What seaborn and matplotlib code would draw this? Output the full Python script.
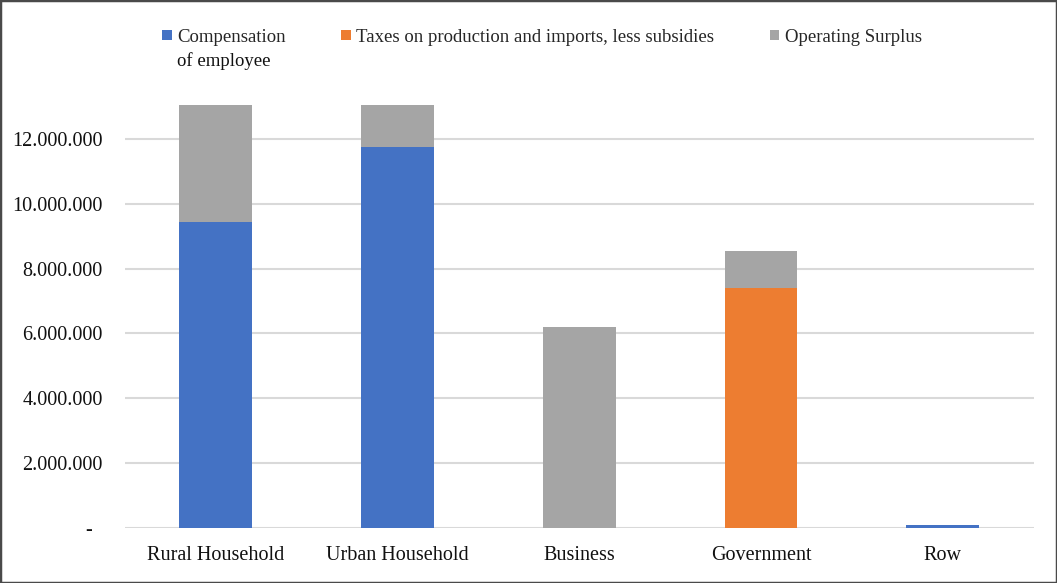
import matplotlib
matplotlib.use("Agg")
import matplotlib.pyplot as plt
from matplotlib.patches import Patch, Rectangle
from matplotlib.ticker import FuncFormatter, FixedLocator
import seaborn as sns
import pandas as pd

# Income received by institution, by factor component
institutions = ["Rural Household", "Urban Household", "Business", "Government", "Row"]
compensation = [9_450_000, 11_750_000, 0, 0, 90_000]
taxes = [0, 0, 0, 7_400_000, 0]
surplus = [3_600_000, 1_300_000, 6_200_000, 1_160_000, 0]
y_ticks = [0, 2_000_000, 4_000_000, 6_000_000, 8_000_000, 10_000_000, 12_000_000]

series_names = ["Compensation",
                "Taxes on production and imports, less subsidies",
                "Operating Surplus"]
first_name_cont = "of employee"
colors = ["#4472C4", "#ED7D31", "#A5A5A5"]

sns.set_theme(style="white")
plt.rcParams["font.family"] = ["Liberation Serif", "DejaVu Serif"]

df = pd.DataFrame({"institution": institutions,
                   "comp": compensation, "tax": taxes, "surplus": surplus})
df["lvl1"] = df["comp"]
df["lvl2"] = df["comp"] + df["tax"]
df["lvl3"] = df["lvl2"] + df["surplus"]

fig = plt.figure(figsize=(10.57, 5.83), dpi=100)
ax = fig.add_axes([0.118, 0.095, 0.860, 0.777])

# stacked bars drawn back to front (cumulative heights)
for level, color in zip(["lvl3", "lvl2", "lvl1"], colors[::-1]):
    sns.barplot(data=df, x="institution", y=level, color=color,
                width=0.4, ax=ax, saturation=1, linewidth=0, zorder=3)

ax.set_xlim(-0.5, len(institutions) - 0.5)
ax.set_ylim(0, 14_000_000)
ax.yaxis.set_major_locator(FixedLocator(y_ticks))


def fmt(v, _):
    if v == 0:
        return "-  "
    return f"{v:,.0f}".replace(",", ".")


ax.yaxis.set_major_formatter(FuncFormatter(fmt))
ax.grid(axis="y", color="#D9D9D9", linewidth=1.5, zorder=0)
ax.grid(axis="x", visible=False)
for s in ax.spines.values():
    s.set_visible(False)
ax.tick_params(axis="both", length=0, labelsize=14.5, colors="#111111")
ax.tick_params(axis="y", pad=16)
ax.tick_params(axis="x", pad=13)
ax.set_xlabel("")
ax.set_ylabel("")

handles = [Patch(facecolor=c, edgecolor="none") for c in colors]
leg = fig.legend(handles, series_names, loc="center", ncol=3,
                 bbox_to_anchor=(0.5128, 1 - 37 / 583), frameon=False,
                 fontsize=13.5, handlelength=0.5, handleheight=0.5,
                 handletextpad=0.3, columnspacing=2.95, borderpad=0)

# second line of the first legend label, under its first line
fig.canvas.draw()
bb = leg.get_texts()[0].get_window_extent().transformed(fig.transFigure.inverted())
fig.text(bb.x0, bb.y0 - 24 / 583 + (bb.y1 - bb.y0) / 2, first_name_cont,
         fontsize=13.5, va="center", ha="left", color="#111111")

# thin frame around the whole figure
fig.patches.append(Rectangle((0, 0), 1, 1, transform=fig.transFigure,
                             fill=False, edgecolor="#4a4a4a", linewidth=2.5))

fig.savefig("out.png", dpi=100)
